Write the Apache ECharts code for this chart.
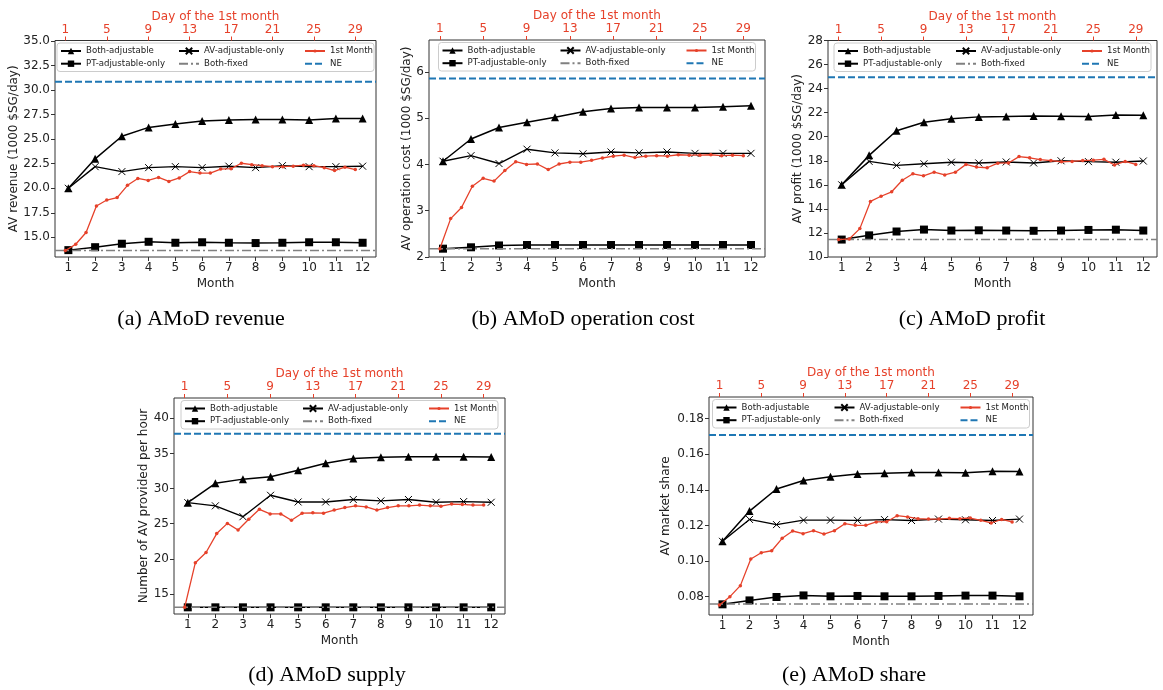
<!DOCTYPE html>
<html>
<head>
<meta charset="utf-8">
<script src="https://cdn.jsdelivr.net/npm/echarts@6/dist/echarts.min.js"></script>
<style>
html,body{margin:0;padding:0;background:#fff;}
#chart{width:1163px;height:690px;}
</style>
</head>
<body>
<div id="chart"></div>
<script>
// ---------- shared categories / ticks ----------
const months = [1,2,3,4,5,6,7,8,9,10,11,12];
const days = [1,2,3,4,5,6,7,8,9,10,11,12,13,14,15,16,17,18,19,20,21,22,23,24,25,26,27,28,29];
const dayTicks = [1,5,9,13,17,21,25,29];
const seriesNames = ['Both-adjustable','PT-adjustable-only','AV-adjustable-only','Both-fixed','1st Month','NE'];

// ---------- (a) revenue ----------
const revBoth = [20.0,23.0,25.3,26.2,26.55,26.85,26.95,27.0,27.0,26.95,27.1,27.1];
const revAV = [20.0,22.2,21.7,22.1,22.2,22.1,22.25,22.1,22.3,22.2,22.2,22.25];
const revPT = [13.7,14.0,14.35,14.55,14.45,14.5,14.45,14.42,14.45,14.5,14.5,14.45];
const revFixed = 13.65;
const revNE = 30.85;
const revDay = [13.65,14.3,15.5,18.2,18.8,19.05,20.3,21.0,20.8,21.1,20.7,21.05,21.7,21.55,21.55,21.95,22.0,22.55,22.4,22.3,22.2,22.2,22.25,22.35,22.3,22.1,21.8,22.15,21.9];
const revTicks = [15,17.5,20,22.5,25,27.5,30,32.5,35];

// ---------- (b) operation cost ----------
const costBoth = [4.07,4.55,4.8,4.91,5.02,5.14,5.21,5.23,5.23,5.23,5.25,5.27];
const costAV = [4.07,4.19,4.02,4.33,4.25,4.23,4.27,4.25,4.27,4.24,4.24,4.24];
const costPT = [2.18,2.21,2.25,2.26,2.26,2.26,2.26,2.26,2.26,2.26,2.26,2.26];
const costFixed = 2.18;
const costNE = 5.86;
const costDay = [2.18,2.83,3.07,3.53,3.7,3.64,3.87,4.06,4.0,4.01,3.89,4.01,4.05,4.05,4.09,4.14,4.18,4.2,4.15,4.18,4.19,4.18,4.21,4.2,4.2,4.21,4.19,4.2,4.19];
const costTicks = [2,3,4,5,6];

// ---------- (c) profit ----------
const profBoth = [16.0,18.45,20.5,21.2,21.5,21.65,21.68,21.72,21.7,21.68,21.8,21.78];
const profAV = [16.0,17.95,17.62,17.75,17.88,17.82,17.9,17.82,18.0,17.93,17.88,17.98];
const profPT = [11.45,11.8,12.12,12.28,12.2,12.22,12.2,12.18,12.2,12.25,12.27,12.2];
const profFixed = 11.45;
const profNE = 24.95;
const profDay = [11.45,11.5,12.36,14.62,15.05,15.42,16.38,16.92,16.75,17.05,16.82,17.05,17.7,17.48,17.42,17.8,17.82,18.35,18.25,18.1,18.02,17.92,17.95,18.02,18.05,18.12,17.65,17.95,17.7];
const profTicks = [10,12,14,16,18,20,22,24,26,28];

// ---------- (d) supply ----------
const supBoth = [28.0,30.75,31.35,31.7,32.6,33.6,34.3,34.45,34.55,34.55,34.55,34.5];
const supAV = [28.0,27.55,26.0,29.05,28.1,28.1,28.45,28.25,28.45,28.05,28.15,28.05];
const supPT = [13.1,13.1,13.1,13.1,13.1,13.1,13.1,13.1,13.1,13.1,13.1,13.1];
const supFixed = 13.1;
const supNE = 37.8;
const supDay = [13.1,19.45,20.9,23.6,25.05,24.1,25.65,27.05,26.4,26.4,25.5,26.5,26.55,26.5,26.95,27.3,27.55,27.4,26.95,27.3,27.55,27.55,27.65,27.55,27.5,27.8,27.75,27.65,27.65];
const supTicks = [15,20,25,30,35,40];

// ---------- (e) share ----------
const shBoth = [0.1111,0.1281,0.1405,0.1453,0.1474,0.1489,0.1494,0.1498,0.1498,0.1496,0.1505,0.1504];
const shAV = [0.1111,0.1234,0.1205,0.1230,0.1230,0.1229,0.1233,0.1228,0.1236,0.1232,0.1228,0.1236];
const shPT = [0.0757,0.0779,0.0798,0.0807,0.0802,0.0804,0.0802,0.0802,0.0804,0.0806,0.0806,0.0802];
const shFixed = 0.0759;
const shNE = 0.1708;
const shDay = [0.0753,0.0800,0.0862,0.1012,0.1047,0.1058,0.1128,0.1169,0.1154,0.1171,0.1152,0.1171,0.1210,0.1201,0.1201,0.1220,0.1221,0.1255,0.1248,0.1238,0.1236,0.1236,0.1240,0.1238,0.1242,0.1229,0.1214,0.1234,0.1220];
const shTicks = [0.08,0.10,0.12,0.14,0.16,0.18];

// ---------- layout / styles (built into options) ----------
const panels = [
  {both:revBoth, av:revAV, pt:revPT, fixed:revFixed, ne:revNE, day:revDay, ticks:revTicks, dec:1,
   yName:'AV revenue (1000 $SG/day)', yMin:13.0, yMax:35.05, nameGap:34,
   grid:{left:55, top:40.5, width:321, height:216.5}, caption:'(a) AMoD revenue', capX:201, capY:319},
  {both:costBoth, av:costAV, pt:costPT, fixed:costFixed, ne:costNE, day:costDay, ticks:costTicks, dec:0,
   yName:'AV operation cost (1000 $SG/day)', yMin:2, yMax:6.69, nameGap:16,
   grid:{left:429, top:40, width:336, height:217}, caption:'(b) AMoD operation cost', capX:583, capY:319},
  {both:profBoth, av:profAV, pt:profPT, fixed:profFixed, ne:profNE, day:profDay, ticks:profTicks, dec:0,
   yName:'AV profit (1000 $SG/day)', yMin:10, yMax:28, nameGap:20,
   grid:{left:828, top:40.5, width:329, height:216.5}, caption:'(c) AMoD profit', capX:972, capY:319},
  {both:supBoth, av:supAV, pt:supPT, fixed:supFixed, ne:supNE, day:supDay, ticks:supTicks, dec:0,
   yName:'Number of AV provided per hour', yMin:12.15, yMax:42.9, nameGap:23,
   grid:{left:174, top:398, width:331, height:216}, caption:'(d) AMoD supply', capX:327, capY:675},
  {both:shBoth, av:shAV, pt:shPT, fixed:shFixed, ne:shNE, day:shDay, ticks:shTicks, dec:2,
   yName:'AV market share', yMin:0.0697, yMax:0.1922, nameGap:37,
   grid:{left:709, top:397, width:324, height:218}, caption:'(e) AMoD share', capX:854, capY:675}
];

const FONT = 'DejaVu Sans';
const RED = '#e6412a';
const BLUE = '#1f77b4';
const GRAY = '#808080';
const AXC = '#222';
const X_SYMBOL = 'path://M0,0L10,10M0,10L10,0';

const grids = [], xAxes = [], yAxes = [], series = [], legends = [], graphics = [];

panels.forEach((p, i) => {
  grids.push(Object.assign({show:true, borderColor:'#333', borderWidth:1, backgroundColor:'transparent', containLabel:false}, p.grid));
  // bottom month axis
  xAxes.push({
    type:'value', gridIndex:i, position:'bottom', min:0.5, max:12.5,
    axisLine:{show:false},
    axisTick:{show:true, length:4, customValues:months, lineStyle:{color:'#333'}},
    axisLabel:{customValues:months, margin:5, fontSize:12, color:AXC, fontFamily:FONT},
    splitLine:{show:false},
    name:'Month', nameLocation:'middle', nameGap:21,
    nameTextStyle:{fontSize:12, color:AXC, fontFamily:FONT}
  });
  // top day axis
  xAxes.push({
    type:'value', gridIndex:i, position:'top', min:0, max:31,
    axisLine:{show:false},
    axisTick:{show:true, length:4, customValues:dayTicks, lineStyle:{color:RED}},
    axisLabel:{customValues:dayTicks, margin:5, fontSize:12, color:RED, fontFamily:FONT},
    splitLine:{show:false},
    name:'Day of the 1st month', nameLocation:'middle', nameGap:18,
    nameTextStyle:{fontSize:12, color:RED, fontFamily:FONT}
  });
  yAxes.push({
    type:'value', gridIndex:i, position:'left', min:p.yMin, max:p.yMax,
    axisLine:{show:false},
    axisTick:{show:true, length:4, customValues:p.ticks, lineStyle:{color:'#333'}},
    axisLabel:{customValues:p.ticks, margin:5, fontSize:12, color:AXC, fontFamily:FONT,
               formatter:(v)=>Number(v).toFixed(p.dec)},
    splitLine:{show:false},
    name:p.yName, nameLocation:'middle', nameGap:p.nameGap,
    nameTextStyle:{fontSize:12, color:AXC, fontFamily:FONT}
  });
  const xb = 2*i, xt = 2*i+1;
  series.push({
    name:'Both-adjustable', type:'line', xAxisIndex:xb, yAxisIndex:i, z:3,
    data:months.map((m,k)=>[m,p.both[k]]), symbol:'triangle', symbolSize:8,
    itemStyle:{color:'#000'}, lineStyle:{color:'#000', width:1.5}
  });
  series.push({
    name:'PT-adjustable-only', type:'line', xAxisIndex:xb, yAxisIndex:i, z:3,
    data:months.map((m,k)=>[m,p.pt[k]]), symbol:'rect', symbolSize:8,
    itemStyle:{color:'#000'}, lineStyle:{color:'#000', width:1.5}
  });
  series.push({
    name:'AV-adjustable-only', type:'line', xAxisIndex:xb, yAxisIndex:i, z:3,
    data:months.map((m,k)=>[m,p.av[k]]), symbol:X_SYMBOL, symbolSize:7,
    itemStyle:{color:'#000', borderColor:'#000', borderWidth:1}, lineStyle:{color:'#000', width:1.4}
  });
  series.push({
    name:'Both-fixed', type:'line', xAxisIndex:xb, yAxisIndex:i, z:4,
    data:[[0.5,p.fixed],[12.5,p.fixed]], symbol:'none',
    itemStyle:{color:GRAY}, lineStyle:{color:GRAY, width:1.5, type:[9,3,2,3]}
  });
  series.push({
    name:'NE', type:'line', xAxisIndex:xb, yAxisIndex:i, z:4,
    data:[[0.5,p.ne],[12.5,p.ne]], symbol:'none',
    itemStyle:{color:BLUE}, lineStyle:{color:BLUE, width:2, type:[7,3]}
  });
  series.push({
    name:'1st Month', type:'line', xAxisIndex:xt, yAxisIndex:i, z:5,
    data:days.map((d,k)=>[d,p.day[k]]), symbol:'circle', symbolSize:3.5,
    itemStyle:{color:RED}, lineStyle:{color:RED, width:1.3}
  });

  // legend box + three legend columns
  const g = p.grid;
  const boxW = 317, boxH = 28.5;
  const boxLeft = g.left + g.width/2 - boxW/2;
  const boxTop = g.top + 2.5;
  graphics.push({
    type:'rect', z:3,
    shape:{x:boxLeft, y:boxTop, width:boxW, height:boxH, r:3},
    style:{fill:'rgba(255,255,255,0.85)', stroke:'#cccccc', lineWidth:1}
  });
  const hidden = {opacity:0};
  const cols = [
    {names:[seriesNames[0], seriesNames[1]], off:3, h:8},
    {names:[seriesNames[2], {name:seriesNames[3], itemStyle:hidden}], off:121, h:8},
    {names:[seriesNames[4], {name:seriesNames[5], itemStyle:hidden}], off:247, h:4}
  ];
  cols.forEach(c => {
    legends.push({
      orient:'vertical', left:boxLeft + c.off, top:boxTop + 3,
      data:c.names, itemWidth:20, itemHeight:c.h, itemGap:2.7, padding:0,
      selectedMode:false, z:6,
      textStyle:{fontSize:8.6, color:'#222', fontFamily:FONT, lineHeight:10}
    });
  });

  graphics.push({
    type:'text', x:p.capX, y:p.capY, z:6,
    style:{text:p.caption, fontSize:22, fontFamily:'Liberation Serif', fill:'#000',
           align:'center', verticalAlign:'middle', textAlign:'center', textVerticalAlign:'middle'}
  });
});

const chart = echarts.init(document.getElementById('chart'), null, {renderer:'canvas'});
chart.setOption({
  backgroundColor:'#ffffff',
  animation:false,
  grid:grids,
  xAxis:xAxes,
  yAxis:yAxes,
  legend:legends,
  series:series,
  graphic:{elements:graphics}
});
</script>
</body>
</html>
